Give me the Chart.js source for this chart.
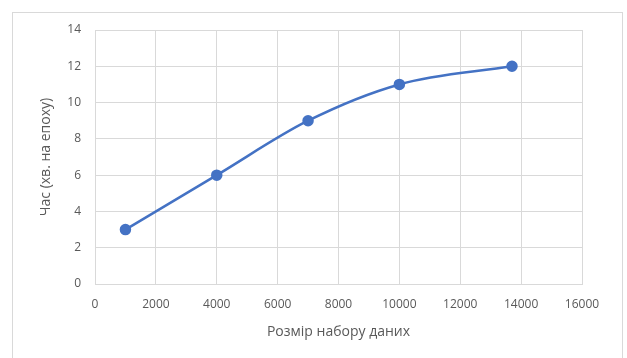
<!DOCTYPE html>
<html>
<head>
<meta charset="utf-8">
<script src="https://cdn.jsdelivr.net/npm/chart.js@4"></script>
<style>
  html, body { margin: 0; padding: 0; background: #fff; }
  #frame { position: absolute; left: 12px; top: 12px; width: 609px; height: 360px; border: 1px solid #d9d9d9; }
  #wrap { position: absolute; left: 0; top: 0; width: 627px; height: 358px; }
</style>
</head>
<body>
<div id="frame"></div>
<div id="wrap"><canvas id="timeChart" width="627" height="358"></canvas></div>
<script>
const sizes = [1000, 4000, 7000, 10000, 13700];
const minutes = [3, 6, 9, 11, 12];
const xTicks = [0, 2000, 4000, 6000, 8000, 10000, 12000, 14000, 16000];
const yTicks = [0, 2, 4, 6, 8, 10, 12, 14];

const font = "'Open Sans', 'Noto Sans', sans-serif";
const ctx = document.getElementById("timeChart").getContext("2d");

new Chart(ctx, {
  type: "scatter",
  data: {
    datasets: [
      {
        data: sizes.map((x, i) => ({ x: x, y: minutes[i] })),
        showLine: true,
        borderColor: "#4472c4",
        backgroundColor: "#4472c4",
        pointBackgroundColor: "#4472c4",
        pointBorderColor: "#4472c4",
        pointRadius: 4.5,
        borderWidth: 2.5,
        tension: 0.4,
        cubicInterpolationMode: "monotone",
      },
    ],
  },
  options: {
    responsive: false,
    animation: false,
    layout: {
      padding: { left: 38, right: 45, top: 30, bottom: 18 },
    },
    plugins: {
      legend: { display: false },
      tooltip: { enabled: false },
    },
    scales: {
      x: {
        min: 0,
        max: 16000,
        afterBuildTicks: (s) => { s.ticks = xTicks.map((v) => ({ value: v })); },
        afterFit: (s) => { s.height = 56; },
        grid: { color: "#d9d9d9", drawTicks: false },
        border: { color: "#d9d9d9" },
        ticks: {
          color: "#595959",
          font: { family: font, size: 12 },
          padding: 13,
          maxRotation: 0,
          callback: (v) => String(v),
        },
        title: {
          display: true,
          text: "Розмір набору даних",
          color: "#595959",
          font: { family: font, size: 14 },
          padding: { top: 0, bottom: 0 },
        },
      },
      y: {
        min: 0,
        max: 14,
        afterBuildTicks: (s) => { s.ticks = yTicks.map((v) => ({ value: v })); },
        afterFit: (s) => { s.width = 57; },
        grid: { color: "#d9d9d9", drawTicks: false },
        border: { color: "#d9d9d9" },
        ticks: { color: "#595959", font: { family: font, size: 12 }, padding: 14 },
        title: {
          display: true,
          text: "Час (хв. на епоху)",
          color: "#595959",
          font: { family: font, size: 14 },
          padding: 0,
        },
      },
    },
  },
});
</script>
</body>
</html>
